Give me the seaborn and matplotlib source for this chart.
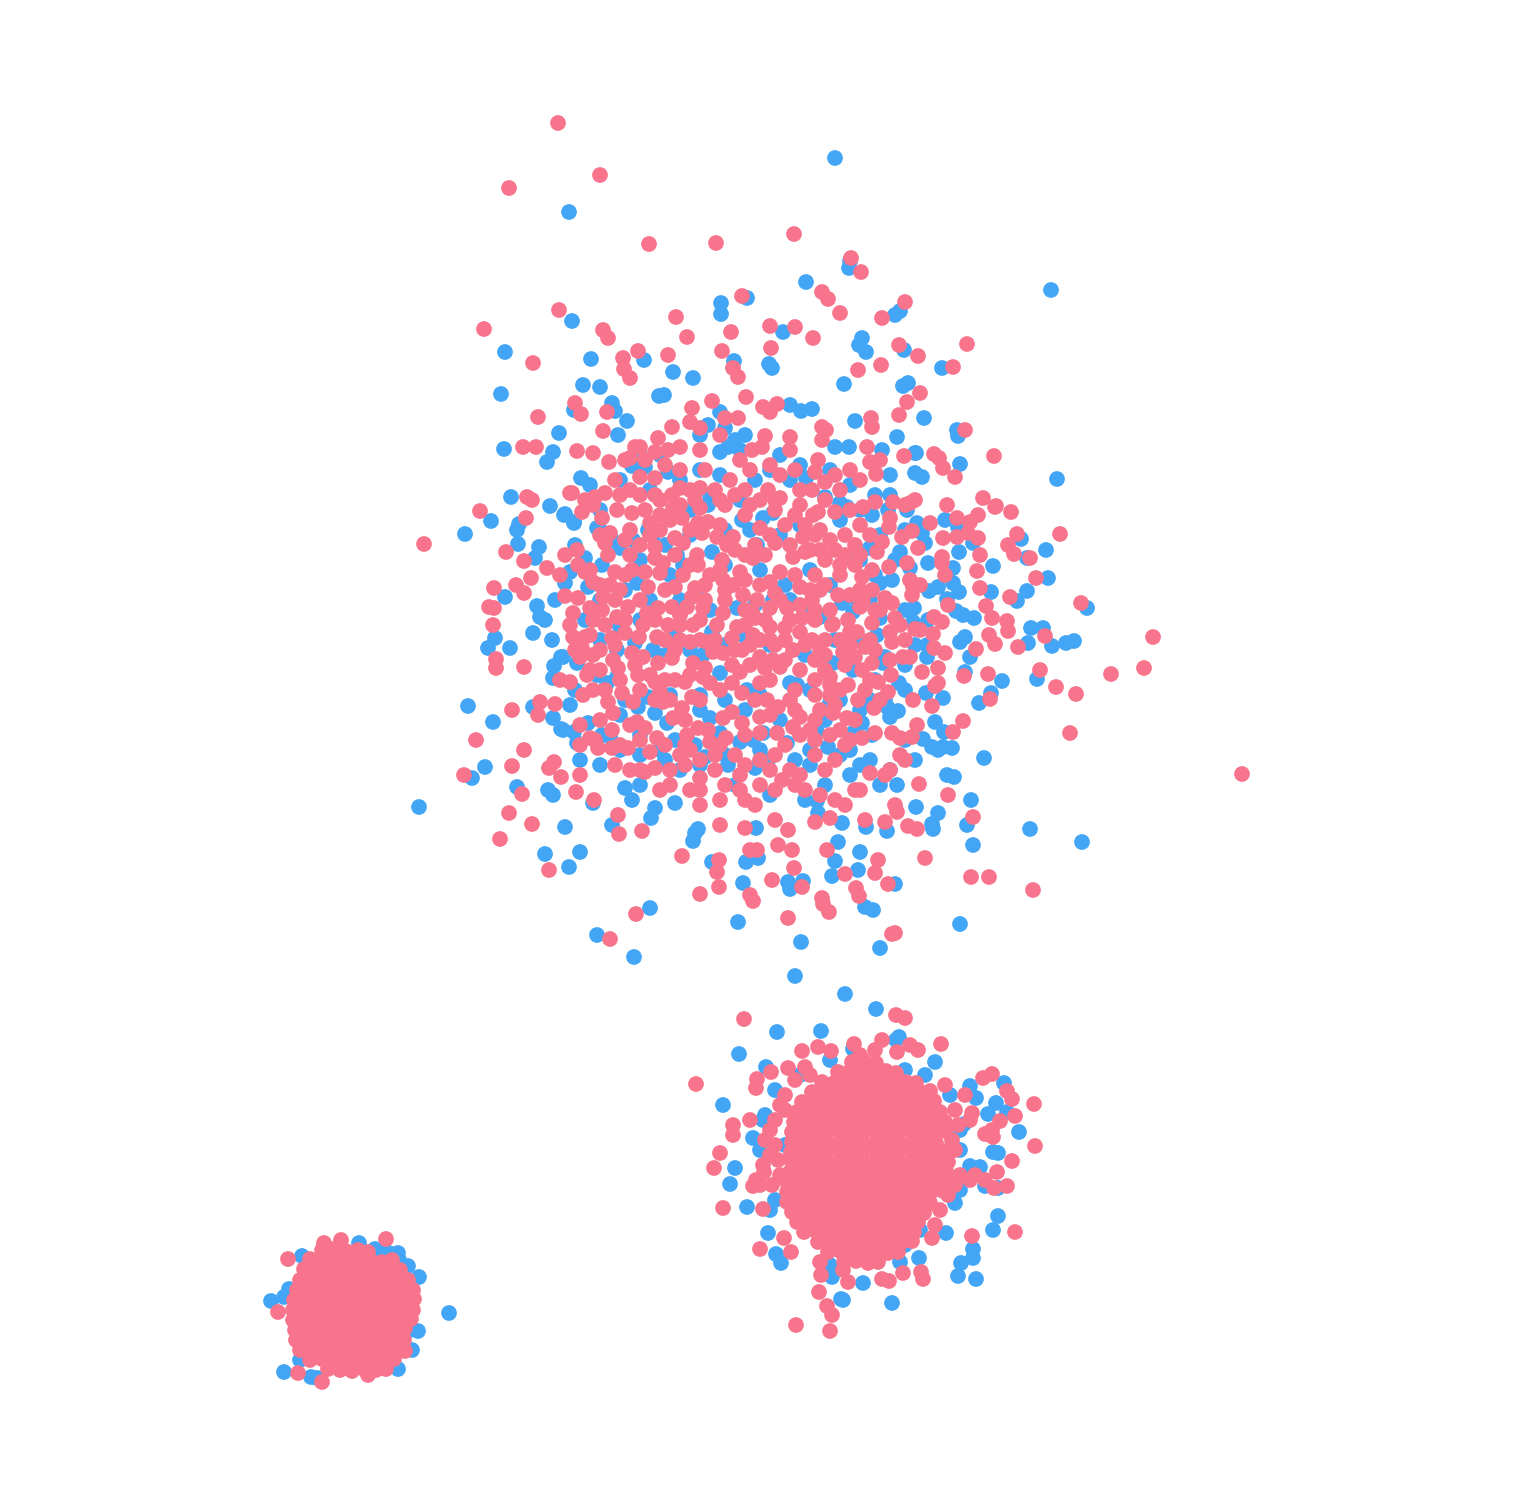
import matplotlib
matplotlib.use("Agg")
import matplotlib.pyplot as plt
import pandas as pd
import seaborn as sns

GROUPS = ["blue", "pink"]
COLORS = {"blue": "#42A5F5", "pink": "#F8748C"}

blue_top = [(835,158),(569,212),(1051,290),(806,282),(849,268),(850,261),(721,303),(721,314),(747,298),(572,321),(783,332),(895,315),(900,311),(859,345),(862,338),(866,352),(904,350),(505,352),(591,359),(644,360),(734,361),(769,364),(772,368),(942,368),(673,372),(693,378),(844,384),(583,385),(600,387),(501,394),(659,396),(664,395),(903,386),(908,383),(612,403),(574,410),(615,411),(627,421),(559,433),(618,435),(924,418),(855,421),(897,437),(957,430),(958,436),(504,449),(553,452),(547,462),(960,464),(1057,479),(915,473),(922,477),(915,453),(511,497),(550,506),(564,515),(574,522),(491,521),(519,524),(517,530),(465,534),(518,544),(539,547),(535,558),
(790,405),(801,411),(812,409),(720,412),(725,428),(735,440),(728,447),(720,452),(708,425),(740,450),(745,435),(700,470),(668,472),(645,467),(632,466),(640,455),(590,485),(600,530),(612,540),(581,478),(835,447),(849,447),(882,450),(916,453),(890,475),(875,495),(840,503),(825,497),(806,478),(790,480),(770,470),(740,500),(710,495),(690,510),
(945,520),(958,527),(973,543),(1021,539),(1046,550),(959,552),(993,566),(1027,558),(953,568),(1048,578),(953,583),(959,592),(938,587),(929,591),(1027,591),(1017,601),(991,592),(947,599),(956,611),(963,615),(974,618),(914,608),(1031,628),(1043,628),(1028,643),(1052,646),(1066,643),(1074,641),(1087,608),(965,637),(960,642),(970,657),(927,645),(927,657),(1002,681),(1037,679),(965,672),(991,693),(979,703),(943,698),(926,693),(899,683),(898,711),(890,717),(885,700),(888,708),(935,722),(944,732),(862,723),(923,739),(952,748),(943,747),(932,747),(913,622),(928,620),(880,618),(853,597),(842,603),(853,612),(820,617),(877,635),(885,657),(883,663),(833,663),(853,670),(840,700),(830,703),(860,710),(853,733),(872,735),(817,732),(828,747),(847,507),(840,520),(872,515),(888,510),(907,510),(917,523),(922,533),(925,543),(928,563),(910,568),(900,552),(880,535),(870,548),(853,559),(860,560),(892,580),(880,583),
(565,514),(574,523),(597,528),(633,540),(653,535),(620,548),(602,565),(585,558),(570,572),(565,583),(588,587),(637,583),(677,555),(683,565),(757,545),(763,518),(773,513),(712,552),(742,520),(708,505),(683,512),(563,657),(577,663),(585,620),(620,627),(635,643),(675,635),(712,632),(742,635),(737,608),(773,600),(790,683),(797,685),(747,690),(720,673),(703,655),(653,650),(617,650),(597,675),(607,683),(617,677),(648,697),(638,707),(655,713),(588,723),(563,730),(574,732),(577,743),(602,735),(610,737),(667,723),(710,718),(720,733),(740,742),(763,733),(787,743),(753,740),
(505,597),(537,606),(540,617),(533,633),(495,638),(488,648),(510,648),(552,640),(561,657),(554,666),(553,678),(533,707),(468,706),(493,722),(553,718),(561,729),(485,767),(472,778),(517,787),(548,790),(553,795),(565,827),(593,803),(612,825),(545,854),(580,852),(569,867),(419,807),(597,935),(650,908),(634,957),(738,922),(801,942),(795,976),(880,948),(960,924),(1082,842),(1030,829),(973,845),(967,825),(971,800),(933,829),(932,824),(938,813),(916,807),(954,777),(947,775),(984,758),(938,750),(897,785),(890,770),(905,740),
(625,788),(632,800),(655,808),(651,818),(675,803),(695,833),(698,829),(693,841),(712,862),(746,862),(758,858),(756,828),(743,883),(788,882),(790,889),(803,881),(838,842),(835,861),(860,852),(832,876),(865,907),(873,910),(895,884),(858,870),(842,823),(817,801),(818,813),(866,827),(887,831),(735,785),(728,765),(705,757),(755,768),(768,760),(795,760),(810,765),(825,785),(840,755),(860,765),(880,785),(680,770),(665,760),(640,755),(620,750)]

blue_fill = [(648,530),(665,545),(690,535),(725,530),(750,530),(780,535),(800,525),(640,560),(670,575),(700,590),(725,565),(760,570),(785,585),(810,570),(830,585),(650,600),(680,600),(710,610),(755,605),(790,600),(810,610),(600,600),(625,590),(640,620),(665,655),(690,650),(725,645),(770,645),(805,655),(835,640),(600,640),(575,690),(625,700),(670,695),(700,695),(725,700),(760,695),(810,690),(825,720),(780,720),(745,710),(700,710),(675,740),(640,735),(620,715),(660,750),(695,745),(725,755),(760,750),(810,750),(850,750),(870,700),(875,680),(905,690),(905,665),(915,645),(860,640),(870,600),(905,610),(620,480),(650,490),(680,480),(720,475),(755,480),(780,455),(800,465),(850,485),(860,510),(890,495),(905,530),(895,560),(875,575),(830,470),(700,435),(660,455),(600,510),(575,545),(555,600),(545,620),(570,705),(580,760),(600,765),(640,785),(700,765),(770,795),(805,800),(850,775),(870,760),(915,760)]

pink_top = [(558,123),(600,175),(509,188),(649,244),(716,243),(794,234),(851,258),(861,272),(742,296),(822,292),(828,299),(905,302),(840,313),(882,318),(559,310),(484,329),(603,330),(608,338),(676,317),(731,332),(770,326),(795,327),(813,338),(687,337),(638,351),(668,355),(722,351),(771,348),(899,345),(918,356),(967,344),(533,363),(623,358),(624,369),(630,378),(733,368),(738,377),(858,370),(881,365),(953,367),(920,393),(907,402),(746,397),(712,401),(575,403),(581,414),(607,412),(538,417),(692,408),(763,407),(777,404),(899,415),(871,418),(965,430),(603,431),(725,418),(738,418),(523,447),(536,447),(577,451),(593,453),(609,462),(658,438),(672,427),(994,456),(934,454),(939,458),(904,456),(943,468),(955,477),(983,498),(996,506),(1011,512),(1017,534),(1060,534),(1008,545),(1014,554),(424,544),(480,511),(527,497),(532,500),(526,518),(506,552),(524,561),(547,568),(531,578),(516,585),(524,593),(494,588),(489,607),(494,608),(493,625),(496,659),(496,668),(524,667),(512,710),(540,702),(538,715),(555,704),(476,740),(524,750),(512,766),(554,762),(549,768),(464,775),(522,794),(509,813),(532,824),(500,839),(549,870),(561,777),(576,792),(594,800),(618,815),(619,834),(642,831),(682,856),(719,860),(717,872),(719,887),(700,894),(750,895),(753,901),(772,880),(794,868),(802,887),(845,874),(875,873),(878,860),(888,884),(822,898),(823,904),(829,912),(856,888),(859,896),(788,918),(636,914),(610,939),(892,934),(895,933),(925,858),(971,877),(989,877),(1033,890),(973,817),(1070,733),(1242,774),(1153,637),(1144,668),(1111,674),(1076,694),(1056,687),(1040,670),(1045,636),(1081,603),(1036,578),(1030,558),(1010,597),(1007,621),(1008,631),(986,606),(992,618),(989,635),(995,644),(976,649),(1018,647),(964,676),(988,674),(990,699),(963,721),(953,732),(948,795),(919,784),(905,760),(917,829),(908,826)]

pink_right = [(863,507),(875,502),(893,502),(910,503),(947,505),(957,518),(978,515),(970,522),(995,507),(930,523),(943,538),(957,537),(978,538),(968,533),(980,555),(977,571),(942,557),(942,563),(945,575),(980,588),(948,605),(938,668),(938,683),(935,686),(945,653),(934,648),(933,634),(934,617),(942,622),(920,630),(915,629),(910,580),(920,585),(912,595),(913,587),(907,563),(918,548),(912,531),(902,537),(890,518),(889,527),(882,542),(877,552),(889,567),(872,570),(862,577),(872,590),(863,600),(860,607),(885,598),(892,603),(895,618),(872,623),(848,620),(833,624),(857,632),(850,632),(890,632),(892,642),(910,657),(903,657),(875,650),(865,647),(855,657),(843,652),(872,663),(862,670),(891,675),(878,682),(865,690),(888,692),(922,672),(913,700),(932,706),(874,708),(858,700),(848,685),(830,677),(840,690),(833,713),(847,718),(917,725),(875,733),(862,738),(892,733),(900,738),(912,737)]

pink_left = [(582,512),(602,518),(617,510),(600,535),(610,533),(605,543),(630,530),(632,513),(650,523),(660,515),(673,508),(682,518),(698,523),(708,522),(702,533),(717,537),(733,537),(727,545),(675,538),(683,543),(655,547),(697,555),(698,565),(722,560),(565,555),(577,550),(578,565),(585,572),(593,582),(608,555),(615,572),(630,555),(632,570),(645,572),(655,558),(663,563),(660,573),(648,587),(675,587),(683,575),(710,575),(723,580),(733,585),(743,595),(695,588),(692,597),(745,555),(753,558),(740,572),(760,585),(760,528),(775,543),(780,572),(793,557),(803,537),(785,525),(800,587),(775,593),(757,600),(770,608),(787,608),(752,612),(755,618),(802,618),(770,627),(785,628),(800,632),(753,635),(737,627),(717,625),(693,625),(680,625),(668,625),(723,613),(703,608),(687,607),(658,608),(647,613),(672,607),(628,607),(615,600),(603,597),(578,598),(565,596),(573,613),(590,608),(602,610),(593,620),(617,617),(643,625),(573,637),(585,637),(612,638),(625,633),(639,637),(657,637),(690,642),(707,642),(732,638),(582,648),(593,655),(580,657),(613,660),(618,668),(632,653),(643,657),(658,663),(675,650),(672,658),(693,663),(713,652),(723,653),(742,650),(732,665),(740,672),(760,657),(773,660),(793,650),(760,683),(770,680),(800,670),(780,667),(570,682),(587,675),(583,695),(593,690),(638,675),(655,682),(660,692),(608,702),(622,693),(633,702),(675,680),(685,682),(703,677),(710,683),(732,683),(742,693),(692,697),(682,708),(673,718),(663,702),(613,713),(630,725),(637,722),(645,728),(612,730),(590,738),(598,748),(612,748),(628,748),(657,738),(687,735),(698,728),(708,730),(710,742),(726,738),(723,718),(732,712),(742,723),(760,717),(767,700),(778,707),(790,700),(777,733),(793,727),(760,733),(800,717)]

pink_mid = [(813,515),(818,512),(835,512),(815,535),(830,540),(845,535),(855,545),(810,550),(825,560),(840,565),(840,575),(815,575),(820,590),(838,595),(812,600),(830,610),(815,620),(832,625),(812,640),(825,640),(820,650),(815,660),(825,670),(815,680),(830,685),(815,695),(830,695),(820,710),(835,705),(815,720),(830,735),(815,740),(840,730),
(690,422),(700,428),(770,412),(640,447),(635,447),(630,458),(668,450),(655,452),(680,447),(700,450),(720,435),(752,450),(765,436),(762,447),(790,437),(822,427),(826,430),(822,440),(872,427),(867,447),(880,460),(876,474),(850,470),(835,475),(818,460),(815,472),(825,482),(812,490),(790,450),(770,465),(750,470),(745,490),(768,490),(780,498),(760,500),(730,480),(715,490),(700,488),(680,488),(690,490),(680,470),(655,478),(640,477),(630,490),(625,460),(595,497),(585,500),(570,493),(572,493),(605,493),(593,505),(655,495),(672,495),(645,510),(620,495),(870,462),(860,480),(840,490),(905,505),(915,500),
(615,765),(630,770),(645,772),(655,768),(670,770),(680,755),(690,750),(700,778),(715,770),(740,775),(745,765),(770,770),(782,780),(800,775),(825,770),(835,760),(855,790),(860,790),(870,773),(885,775),(890,770),(900,755),(690,790),(700,790),(720,800),(745,800),(755,805),(775,790),(795,785),(835,800),(845,805),(865,820),(885,822),(895,805),(897,812),(815,822),(830,818),(745,828),(775,820),(788,830),(778,845),(750,850),(757,850),(792,850),(827,850),(720,825),(700,805),(660,790),(670,785),(640,770),(580,775),(595,740),(620,745),(580,745)]

pink_fill = [(690,565),(705,585),(735,550),(765,555),(790,545),(805,552),(770,535),(755,545),(720,570),(665,590),(680,615),(700,620),(725,600),(745,610),(765,620),(790,620),(810,590),(795,575),(770,582),(640,600),(655,620),(625,620),(605,625),(590,635),(600,650),(615,645),(635,665),(650,675),(665,680),(690,675),(705,668),(720,690),(700,700),(685,720),(670,700),(750,665),(765,668),(785,660),(805,645),(750,645),(770,640),(785,640),(795,690),(770,715),(755,700),(745,735),(800,735),(785,745),(815,755),(850,740),(655,700),(640,690),(620,680),(605,690),(600,670),(590,670),(575,650),(570,625),(600,585),(625,575),(640,545),(625,540),(670,520),(690,530),(720,525),(745,515),(775,510),(795,515),(800,505),(775,500),(750,505),(725,505),(700,508),(660,500),(640,495),(615,480),(645,460),(665,465),(705,470),(740,460),(780,475),(800,490),(795,470),(825,500),(850,510),(860,525),(870,535),(845,555),(855,565),(860,590),(880,610),(905,640),(890,660),(850,645),(840,640),(845,665),(825,655),(870,640),(880,700),(855,720),(845,745),(810,730),(795,710),(720,745),(735,755),(760,760),(775,755),(685,765),(665,745),(640,740),(650,752),(685,745),(700,760),(715,755),(790,770),(805,790),(820,795),(760,785),(725,785),(740,790),(600,720),(580,725),(560,680),(590,570),(560,575),(680,505),(695,500),(720,500),(735,495),(675,555),(650,535),(660,530),(610,585),(620,590),(700,640),(715,640),(680,640),(665,640),(745,625),(760,640),(735,650),(775,645),(815,610),(800,605),(780,600),(745,580),(705,600),(725,590),(870,680),(900,625),(875,610),(850,595),(825,585),(860,555),(835,550),(820,530),(805,525),(820,550)]

blue_lower = [(845,994),(876,1009),(777,1032),(821,1031),(739,1054),(766,1067),(899,1037),(896,1040),(935,1062),(723,1105),(1004,1083),(970,1086),(976,1098),(1007,1112),(988,1114),(1019,1132),(996,1103),(753,1138),(735,1168),(730,1184),(747,1207),(768,1233),(776,1254),(781,1263),(998,1216),(993,1230),(973,1249),(973,1258),(961,1263),(958,1276),(976,1279),(892,1303),(841,1299),(843,1300),(863,1283),(832,1277),(830,1265),(900,1262),(919,1258),(946,1233),(985,1186),(970,1166),(980,1167),(993,1152),(998,1153),(964,1124),(960,1130),(998,1188),(960,1190),(955,1203),(920,1230),(905,1245),(853,1049),(858,1055),(763,1120),(760,1150),(770,1210),(775,1200),(785,1145),(960,1150),(950,1095),(925,1075),(905,1070),(830,1060),(800,1075),(775,1090),(765,1115)]

pink_lower = [(744,1019),(896,1015),(905,1018),(696,1084),(941,1044),(882,1040),(854,1044),(802,1051),(818,1047),(831,1051),(897,1052),(910,1045),(918,1050),(757,1079),(756,1088),(771,1072),(788,1068),(805,1067),(992,1074),(983,1078),(1007,1091),(1012,1099),(1034,1104),(1015,1116),(1035,1146),(1012,1161),(1007,1186),(997,1172),(994,1188),(1015,1232),(972,1236),(1000,1121),(985,1134),(993,1137),(992,1130),(972,1113),(970,1120),(733,1125),(733,1135),(750,1120),(720,1153),(714,1168),(763,1165),(764,1172),(723,1208),(763,1209),(753,1186),(756,1180),(760,1185),(784,1238),(760,1249),(791,1252),(820,1262),(821,1275),(843,1270),(848,1282),(882,1279),(889,1281),(903,1273),(921,1272),(923,1279),(819,1292),(827,1306),(832,1315),(796,1325),(830,1331),(932,1238),(970,1180),(975,1175),(955,1150),(960,1175),(985,1180),(780,1105),(775,1120),(770,1130),(775,1145),(778,1160),(765,1140),(770,1155),(780,1175),(772,1185),(955,1110),(965,1095),(945,1085),(958,1125),(952,1140),(948,1195),(955,1185),(940,1210),(935,1225),(810,1075),(795,1080),(785,1095),(785,1110),(860,1055),(875,1050)]

pink_core = [(852,1062),(864,1061),(876,1063),
(838,1072),(850,1071),(862,1073),(874,1072),(886,1071),(896,1073),
(822,1082),(834,1083),(846,1081),(858,1083),(870,1082),(882,1081),(894,1083),(906,1082),(916,1083),
(812,1092),(824,1091),(836,1093),(848,1092),(860,1091),(872,1093),(884,1092),(896,1091),(908,1093),(920,1092),(930,1091),
(802,1102),(814,1103),(826,1101),(838,1103),(850,1102),(862,1101),(874,1103),(886,1102),(898,1101),(910,1103),(922,1102),(934,1101),
(797,1112),(808,1111),(820,1113),(832,1112),(844,1111),(856,1113),(868,1112),(880,1111),(892,1113),(904,1112),(916,1111),(928,1113),(940,1112),
(794,1122),(804,1123),(816,1121),(828,1123),(840,1122),(852,1121),(864,1123),(876,1122),(888,1121),(900,1123),(912,1122),(924,1121),(936,1123),(945,1122),
(792,1132),(803,1131),(815,1133),(827,1132),(839,1131),(851,1133),(863,1132),(875,1131),(887,1133),(899,1132),(911,1131),(923,1133),(935,1132),(945,1131),
(792,1142),(804,1143),(816,1141),(828,1143),(840,1142),(852,1141),(864,1143),(876,1142),(888,1141),(900,1143),(912,1142),(924,1141),(936,1143),
(791,1152),(803,1151),(815,1153),(827,1152),(839,1151),(851,1153),(863,1152),(875,1151),(887,1153),(899,1152),(911,1151),(923,1153),(935,1152),(945,1151),
(792,1162),(804,1163),(816,1161),(828,1163),(840,1162),(852,1161),(864,1163),(876,1162),(888,1161),(900,1163),(912,1162),(924,1161),(936,1163),(948,1162),
(790,1172),(802,1171),(814,1173),(826,1172),(838,1171),(850,1173),(862,1172),(874,1171),(886,1173),(898,1172),(910,1171),(922,1173),(934,1172),(946,1171),
(787,1182),(798,1183),(810,1181),(822,1183),(834,1182),(846,1181),(858,1183),(870,1182),(882,1181),(894,1183),(906,1182),(918,1181),(930,1183),(942,1182),(953,1181),
(787,1192),(799,1191),(811,1193),(823,1192),(835,1191),(847,1193),(859,1192),(871,1191),(883,1193),(895,1192),(907,1191),(919,1193),(931,1192),(943,1191),
(787,1202),(798,1203),(810,1201),(822,1203),(834,1202),(846,1201),(858,1203),(870,1202),(882,1201),(894,1203),(906,1202),(918,1201),(930,1203),
(792,1212),(804,1211),(816,1213),(828,1212),(840,1211),(852,1213),(864,1212),(876,1211),(888,1213),(900,1212),(912,1211),(924,1213),
(797,1222),(810,1223),(822,1221),(834,1223),(846,1222),(858,1221),(870,1223),(882,1222),(894,1221),(906,1223),(918,1222),
(804,1232),(816,1231),(828,1233),(840,1232),(852,1231),(864,1233),(876,1232),(888,1231),(900,1233),(914,1232),
(818,1242),(830,1243),(842,1241),(854,1243),(866,1242),(878,1241),(890,1243),(902,1242),(912,1241),
(828,1252),(840,1251),(852,1253),(864,1252),(876,1251),(888,1253),(898,1252),
(844,1262),(856,1261),(868,1263),(878,1262)]

blue_corner = [(271,1301),(284,1297),(289,1289),(302,1256),(359,1243),(375,1249),(380,1252),(389,1253),(398,1253),(408,1266),(419,1277),(449,1313),(418,1331),(410,1330),(398,1369),(284,1372),(311,1377),(317,1378),(300,1360),(399,1260),(412,1350)]

pink_corner = [(386,1239),(288,1259),(278,1312),(298,1373),(322,1382),(368,1375),(341,1240),(324,1243),(405,1328),
(322,1250),(334,1249),(346,1251),(358,1250),(368,1252),
(310,1259),(322,1261),(334,1260),(346,1259),(358,1261),(370,1260),(382,1262),(392,1260),
(304,1269),(316,1271),(328,1270),(340,1269),(352,1271),(364,1270),(376,1269),(388,1271),(400,1270),
(300,1280),(312,1279),(324,1281),(336,1280),(348,1279),(360,1281),(372,1280),(384,1279),(396,1281),(408,1280),
(297,1290),(309,1291),(321,1289),(333,1291),(345,1290),(357,1289),(369,1291),(381,1290),(393,1289),(405,1291),(413,1290),
(294,1300),(306,1299),(318,1301),(330,1300),(342,1299),(354,1301),(366,1300),(378,1299),(390,1301),(402,1300),(414,1299),
(293,1310),(305,1311),(317,1309),(329,1311),(341,1310),(353,1309),(365,1311),(377,1310),(389,1309),(401,1311),(413,1310),
(293,1320),(305,1319),(317,1321),(329,1320),(341,1319),(353,1321),(365,1320),(377,1319),(389,1321),(401,1320),(411,1319),
(295,1330),(307,1331),(319,1329),(331,1331),(343,1330),(355,1329),(367,1331),(379,1330),(391,1329),(403,1331),
(296,1340),(308,1339),(320,1341),(332,1340),(344,1339),(356,1341),(368,1340),(380,1339),(392,1341),(404,1340),
(300,1350),(312,1351),(324,1349),(336,1351),(348,1350),(360,1349),(372,1351),(384,1350),(396,1349),(405,1351),
(310,1360),(322,1359),(334,1361),(346,1360),(358,1359),(370,1361),(382,1360),(394,1359),
(328,1369),(340,1370),(352,1371),(364,1369),(376,1370),(386,1369)]

blue_points = blue_top + blue_fill + blue_lower + blue_corner
pink_points = pink_top + pink_right + pink_left + pink_mid + pink_fill + pink_lower + pink_core + pink_corner

df = pd.DataFrame(
    [(x, y, GROUPS[0]) for x, y in blue_points] + [(x, y, GROUPS[1]) for x, y in pink_points],
    columns=["x", "y", "group"],
)

sns.set_theme(style="white")
fig, ax = plt.subplots(figsize=(15.14, 15.05), dpi=100)
fig.subplots_adjust(left=0, right=1, bottom=0, top=1)
sns.scatterplot(data=df, x="x", y="y", hue="group", hue_order=GROUPS, palette=COLORS,
                s=128, linewidth=0, alpha=1.0, legend=False, ax=ax)
ax.set_xlim(0, 1514)
ax.set_ylim(1505, 0)
ax.axis("off")
fig.savefig("out.png", dpi=100, facecolor="white")
